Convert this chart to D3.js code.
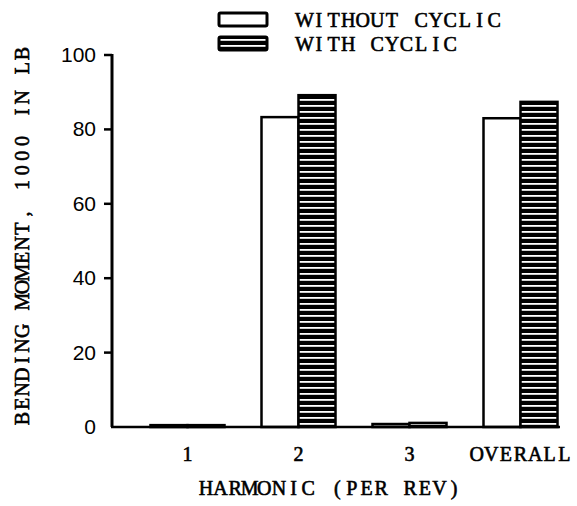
<!doctype html>
<html lang="en">
<head>
  <meta charset="utf-8">
  <title>Bending Moment by Harmonic</title>
  <script src="https://d3js.org/d3.v7.min.js"></script>
  <style>
    body { margin: 0; background: #fff; }
    .type { font-family: "Liberation Serif", "DejaVu Serif", serif; font-size: 20px; fill: #000; stroke: #000; stroke-width: 0.6px; }
    .num { font-family: "Liberation Sans", Arial, sans-serif; font-size: 21px; fill: #000; }
  </style>
</head>
<body>
<script>
// values (1000 in lb)
var categories = ['1', '2', '3', 'OVERALL'];
var withoutCyclic = [0.5, 83.3, 0.8, 83.0];
var withCyclic = [0.5, 89.2, 1.1, 87.4];
var yTicks = [0, 20, 40, 60, 80, 100];
var seriesNames = ['WITHOUT CYCLIC', 'WITH CYCLIC'];

var width = 577,
    height = 506;
var cell = 14.6; // typewriter pitch

var svg = d3.select('body')
  .append('svg')
  .attr('width', width)
  .attr('height', height);

// put each glyph in its own fixed-width cell so a serif font looks typewritten
function measure(ch) {
  var t = svg.append('text').attr('class', 'type').text(ch);
  var w = t.node().getComputedTextLength();
  t.remove();
  return w;
}
function typewrite(sel, str, x0, anchor) {
  var n = str.length;
  var start = anchor === 'middle' ? x0 - n * cell / 2 : x0;
  var xs = str.split('').map(function(ch, i) {
    return (start + i * cell + (cell - measure(ch)) / 2).toFixed(1);
  });
  sel.attr('x', xs.join(' ')).text(str);
}

// horizontal hatch: black with thin white lines
var pat = svg.append('defs').append('pattern')
  .attr('id', 'hatch')
  .attr('patternUnits', 'userSpaceOnUse')
  .attr('width', 8)
  .attr('height', 6);
pat.append('rect').attr('width', 8).attr('height', 6).attr('fill', '#000');
pat.append('rect').attr('y', 3).attr('width', 8).attr('height', 1.8).attr('fill', '#fff');

var y = d3.scaleLinear().domain([0, 100]).range([427, 55]);

var x = d3.scaleBand()
  .domain(categories)
  .range([132, 576])
  .paddingInner(1 / 3)
  .paddingOuter(1 / 6);

var xSub = d3.scaleBand()
  .domain([0, 1])
  .range([0, x.bandwidth()]);

var rows = categories.map(function(c, i) {
  return { cat: c, vals: [withoutCyclic[i], withCyclic[i]] };
});

// bars
var groups = svg.selectAll('g.grp')
  .data(rows)
  .enter()
  .append('g')
  .attr('class', 'grp')
  .attr('transform', d => 'translate(' + x(d.cat) + ',0)');

groups.selectAll('rect')
  .data(d => d.vals.map((v, k) => ({ k: k, v: v })))
  .enter()
  .append('rect')
  .attr('x', d => xSub(d.k))
  .attr('width', xSub.bandwidth())
  .attr('y', d => y(d.v))
  .attr('height', d => y(0) - y(d.v))
  .attr('fill', d => d.k === 0 ? '#fff' : 'url(#hatch)')
  .attr('stroke', '#000')
  .attr('stroke-width', 2.5);

// axes drawn by hand to get the heavy ink look
svg.append('line')
  .attr('x1', 112).attr('x2', 112)
  .attr('y1', y(100) - 1).attr('y2', y(0))
  .attr('stroke', '#000').attr('stroke-width', 3);
svg.append('line')
  .attr('x1', 111).attr('x2', 560)
  .attr('y1', y(0)).attr('y2', y(0))
  .attr('stroke', '#000').attr('stroke-width', 2.5);

var yAxis = svg.append('g');
yAxis.selectAll('line')
  .data(yTicks.filter(t => t > 0))
  .enter()
  .append('line')
  .attr('x1', 104).attr('x2', 112)
  .attr('y1', d => y(d)).attr('y2', d => y(d))
  .attr('stroke', '#000').attr('stroke-width', 2.5);
yAxis.selectAll('text')
  .data(yTicks)
  .enter()
  .append('text')
  .attr('class', 'num')
  .attr('x', 96)
  .attr('y', d => y(d) + 7)
  .attr('text-anchor', 'end')
  .text(d => d);

// category labels
categories.forEach(function(c) {
  var t = svg.append('text').attr('class', 'type').attr('y', 461);
  typewrite(t, c, x(c) + x.bandwidth() / 2, 'middle');
});

// axis titles
typewrite(svg.append('text').attr('class', 'type').attr('y', 495),
  'HARMONIC (PER REV)', 330, 'middle');

typewrite(svg.append('text').attr('class', 'type')
  .attr('transform', 'translate(29,236) rotate(-90)').attr('y', 0),
  'BENDING MOMENT, 1000 IN LB', 0, 'middle');

// legend
var legend = svg.append('g');
legend.selectAll('rect')
  .data(seriesNames)
  .enter()
  .append('rect')
  .attr('x', 219)
  .attr('y', (d, i) => 13 + i * 24)
  .attr('width', 48)
  .attr('height', 13)
  .attr('rx', 1.5)
  .attr('fill', (d, i) => i === 0 ? '#fff' : 'url(#hatch)')
  .attr('stroke', '#000')
  .attr('stroke-width', 3);
seriesNames.forEach(function(s, i) {
  var t = legend.append('text').attr('class', 'type').attr('y', 27 + i * 24);
  typewrite(t, s, 297, 'start');
});
</script>
</body>
</html>
